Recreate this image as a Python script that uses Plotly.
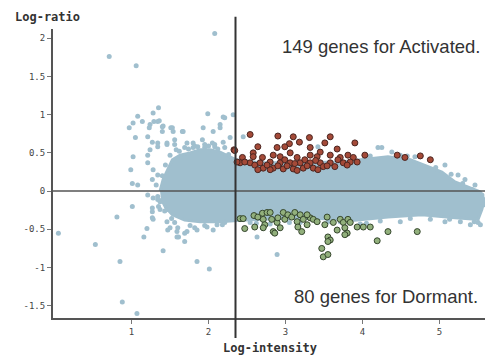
import plotly.graph_objects as go

# Dense core of the cloud (outline)
core_x = [1.37, 1.41, 1.47, 1.53, 1.63, 1.76, 1.89, 2.02, 2.15, 2.36, 2.67, 3.19, 3.71, 3.97, 4.33, 4.62,
          4.81, 5.03, 5.20, 5.40, 5.53, 5.58, 5.55, 5.50, 5.33, 5.20, 4.77, 4.33, 3.90, 3.45, 2.93, 2.41,
          2.15, 1.89, 1.69, 1.53, 1.44, 1.38]
core_y = [0.00, 0.15, 0.28, 0.41, 0.47, 0.50, 0.54, 0.54, 0.51, 0.41, 0.37, 0.37, 0.38, 0.41, 0.45, 0.41,
          0.34, 0.25, 0.12, 0.04, -0.01, -0.11, -0.24, -0.37, -0.36, -0.35, -0.31, -0.34, -0.38, -0.36, -0.36, -0.38,
          -0.40, -0.40, -0.38, -0.31, -0.21, -0.09]

# Individual genes outside / at the border of the core
blue_x = [0.71, 1.06, 2.08, 1.35, 1.28, 1.08, 0.97, 1.02, 1.14, 1.23, 1.29, 1.36, 1.41, 1.40, 1.51, 1.54,
          1.67, 1.99, 2.19, 2.32, 1.93, 2.06, 2.15, 1.05, 1.02, 0.99, 1.21, 1.34, 1.24, 1.46, 1.56, 1.80,
          1.92, 2.05, 2.28, 0.05, 0.53, 0.81, 0.85, 0.88, 1.07, 1.01, 1.01, 1.08, 1.16, 1.20, 1.41, 1.47,
          1.59, 1.69, 1.69, 1.85, 2.01, 1.28, 1.27, 1.34, 1.37, 1.46, 2.06, 2.18, 1.82, 2.45, 2.63, 2.89,
          3.42, 4.20, 4.25, 5.50,
          1.24, 1.34, 1.40, 1.53, 1.66, 1.27, 1.34, 1.46, 1.56, 1.72, 1.80, 1.95, 2.08, 2.19, 2.15, 2.21,
          1.21, 1.21, 1.28, 1.27, 1.21, 1.28, 1.27, 1.35, 1.27, 1.46, 1.50, 1.59, 1.61, 1.72, 1.85, 1.98,
          2.11, 2.21,
          1.69, 1.82, 1.95, 2.08, 2.21, 1.58, 1.50, 1.44, 1.34, 1.32, 1.34, 1.37,
          4.38, 4.49, 4.68, 4.88, 5.07, 5.24, 5.33, 5.46, 5.55, 5.57, 5.53,
          5.40, 5.27, 5.07, 4.88, 4.49, 4.23, 3.97, 3.71, 3.19, 2.80, 2.54,
          1.56, 1.76, 1.95, 1.60,
          1.62, 1.74, 1.86, 2.00, 2.12, 2.26, 4.10, 4.58, 4.95, 5.15, 5.30, 5.42,
          5.45, 5.13, 4.62, 4.05, 3.55, 3.05, 2.62, 1.52, 1.43, 1.40]
blue_y = [1.76, 1.64, 2.06, 1.09, 1.02, 0.98, 0.83, 0.89, 0.91, 0.83, 0.91, 0.92, 0.85, 0.78, 0.83, 0.78,
          0.78, 1.01, 0.97, 1.00, 0.83, 0.78, 0.83, 0.70, 0.45, 0.28, 0.71, 0.63, 0.54, 0.61, 0.67, 0.63,
          0.67, 0.63, 0.70, -0.55, -0.70, -0.34, -0.92, -1.45, -1.60, -0.20, 0.10, 0.08, -0.60, -0.49, -0.78, -0.51,
          -0.60, -0.66, -0.55, -0.92, -1.02, -0.37, -0.27, -0.07, -0.14, -0.24, -0.51, -0.44, -0.48, 0.71, -0.60, -0.83,
          0.58, 0.57, 0.57, -0.41,
          0.87, 0.91, 0.84, 0.83, 0.78, 0.64, 0.58, 0.63, 0.61, 0.63, 0.57, 0.57, 0.61, 0.64, 0.87, 0.96,
          0.47, 0.37, 0.28, 0.15, -0.05, -0.09, -0.22, -0.20, -0.35, -0.40, -0.48, -0.53, -0.60, -0.53, -0.51, -0.47,
          -0.44, -0.41,
          0.57, 0.59, 0.61, 0.58, 0.57, 0.54, 0.47, 0.34, 0.21, 0.08, -0.11, -0.24,
          0.51, 0.47, 0.45, 0.41, 0.34, 0.21, 0.15, 0.08, -0.05, -0.18, -0.44,
          -0.44, -0.40, -0.40, -0.37, -0.40, -0.39, -0.43, -0.40, -0.41, -0.43, -0.41,
          -0.41, -0.45, -0.45, -0.48,
          0.52, 0.55, 0.58, 0.59, 0.55, 0.48, 0.46, 0.46, 0.31, 0.22, 0.10, 0.02,
          -0.40, -0.37, -0.36, -0.42, -0.40, -0.41, -0.42, -0.36, -0.26, 0.20]

# Up-regulated genes (Activated)
act_x = [2.54, 2.90, 3.10, 3.31, 3.58, 3.18, 3.51, 3.05, 2.99, 2.64, 2.33, 2.89, 3.32, 3.67, 3.45, 2.58,
         2.84, 3.06, 3.32, 3.58, 3.81, 2.44, 2.70, 2.93, 3.15, 3.41, 3.71, 3.88, 2.41, 2.54, 2.67, 2.80,
         2.93, 3.06, 3.19, 3.32, 3.45, 3.58, 3.75, 3.84, 2.71, 2.84, 2.97, 3.10, 3.23, 3.36, 3.49, 2.80,
         3.15, 2.47, 2.76, 3.02, 3.28, 3.54, 3.80, 2.58, 3.93, 3.90, 4.03, 4.45, 4.55, 4.75, 4.88, 2.34,
         2.37, 2.60, 2.99, 3.25, 3.64, 2.90, 3.42, 2.64, 3.68, 3.12, 3.39]
act_y = [0.74, 0.72, 0.71, 0.70, 0.71, 0.64, 0.63, 0.62, 0.58, 0.58, 0.54, 0.57, 0.57, 0.55, 0.51, 0.50,
         0.47, 0.50, 0.47, 0.47, 0.47, 0.44, 0.44, 0.45, 0.44, 0.45, 0.44, 0.44, 0.37, 0.37, 0.37, 0.38,
         0.37, 0.37, 0.37, 0.37, 0.37, 0.37, 0.37, 0.38, 0.30, 0.30, 0.29, 0.29, 0.30, 0.30, 0.32, 0.28,
         0.27, 0.38, 0.34, 0.33, 0.33, 0.33, 0.34, 0.45, 0.38, 0.63, 0.47, 0.47, 0.44, 0.46, 0.41, 0.53,
         0.38, 0.34, 0.41, 0.41, 0.32, 0.33, 0.28, 0.28, 0.41, 0.36, 0.40]

# Down-regulated genes (Dormant)
dor_x = [2.41, 2.45, 2.47, 2.59, 2.60, 2.64, 2.70, 2.71, 2.73, 2.76, 2.80, 2.82, 2.84, 2.86, 2.89, 2.90,
         2.97, 2.99, 3.03, 3.08, 3.12, 3.15, 3.19, 3.16, 3.21, 3.23, 3.28, 3.32, 3.36, 3.41, 3.54, 3.51,
         3.55, 3.58, 3.55, 3.47, 3.49, 3.55, 3.62, 3.67, 3.71, 3.75, 3.77, 3.81, 3.80, 3.84, 3.93, 4.01,
         4.10, 4.19, 4.33, 4.71, 2.71, 2.93, 3.28, 3.77]
dor_y = [-0.36, -0.36, -0.49, -0.32, -0.47, -0.34, -0.29, -0.37, -0.44, -0.28, -0.28, -0.37, -0.53, -0.55, -0.41, -0.35,
         -0.28, -0.37, -0.31, -0.34, -0.28, -0.40, -0.31, -0.47, -0.53, -0.37, -0.44, -0.35, -0.37, -0.40, -0.34, -0.44,
         -0.60, -0.64, -0.66, -0.75, -0.86, -0.83, -0.41, -0.51, -0.37, -0.41, -0.48, -0.37, -0.55, -0.41, -0.47, -0.47,
         -0.47, -0.65, -0.53, -0.53, -0.48, -0.48, -0.31, -0.57]

x_ticks = [1, 2, 3, 4, 5]
y_ticks = [2, 1.5, 1, 0.5, 0, -0.5, -1, -1.5]
y_tick_text = ["2", "1.5", "1", "0.5", "0", "-0.5", "-1", "-1.5"]
intensity_cut = 2.35

BLUE = "#a0bfce"
mono = "DejaVu Sans Mono"

fig = go.Figure()
fig.add_trace(go.Scatter(x=core_x, y=core_y, mode="lines", fill="toself", fillcolor=BLUE,
                         line=dict(color=BLUE, width=3), hoverinfo="skip"))
fig.add_trace(go.Scatter(x=blue_x, y=blue_y, mode="markers",
                         marker=dict(size=5, color=BLUE, line=dict(width=0))))
fig.add_trace(go.Scatter(x=act_x, y=act_y, mode="markers",
                         marker=dict(size=6, color="#a44a38", line=dict(color="#4a2520", width=1))))
fig.add_trace(go.Scatter(x=dor_x, y=dor_y, mode="markers",
                         marker=dict(size=6, color="#92b07c", line=dict(color="#34452c", width=1))))

fig.update_layout(
    width=487, height=358,
    margin=dict(l=53, r=2, t=29, b=40),
    paper_bgcolor="white", plot_bgcolor="white",
    showlegend=False,
    xaxis=dict(range=[-0.02, 5.59], tickvals=x_ticks, ticks="outside", ticklen=4, tickcolor="#777",
               showgrid=False, zeroline=False, showline=True, linecolor="#555", linewidth=2,
               tickfont=dict(family=mono, size=9, color="#444")),
    yaxis=dict(range=[-1.66, 2.12], tickvals=y_ticks, ticktext=y_tick_text, ticks="outside", ticklen=4,
               tickcolor="#777", showgrid=False, zeroline=False, showline=True, linecolor="#555", linewidth=2,
               tickfont=dict(family=mono, size=9, color="#444")),
    shapes=[
        dict(type="line", xref="paper", yref="y", x0=0, x1=1, y0=0, y1=0,
             line=dict(color="#555", width=1.5), layer="above"),
        dict(type="line", xref="x", yref="paper", x0=intensity_cut, x1=intensity_cut, y0=-0.069, y1=1.042,
             line=dict(color="#333", width=2), layer="above"),
    ],
    annotations=[
        dict(text="<b>Log-ratio</b>", xref="paper", yref="paper", x=-0.012, y=1.042, showarrow=False,
             xanchor="center", yanchor="middle",
             font=dict(family=mono, size=12, color="#333")),
        dict(text="<b>Log-intensity</b>", xref="paper", yref="paper", x=0.502, y=-0.104, showarrow=False,
             xanchor="center", yanchor="middle",
             font=dict(family=mono, size=12, color="#333")),
        dict(text="149 genes for Activated.", xref="paper", yref="paper", x=0.996, y=0.938,
             xanchor="right", yanchor="middle",
             showarrow=False, font=dict(family="Liberation Sans", size=18.5, color="#333")),
        dict(text="80 genes for Dormant.", xref="paper", yref="paper", x=0.988, y=0.076,
             xanchor="right", yanchor="middle",
             showarrow=False, font=dict(family="Liberation Sans", size=18.5, color="#333")),
    ],
)

fig.write_html("out.html", config={"displayModeBar": False},
               post_script="document.body.style.margin='0';document.body.style.padding='0';")
